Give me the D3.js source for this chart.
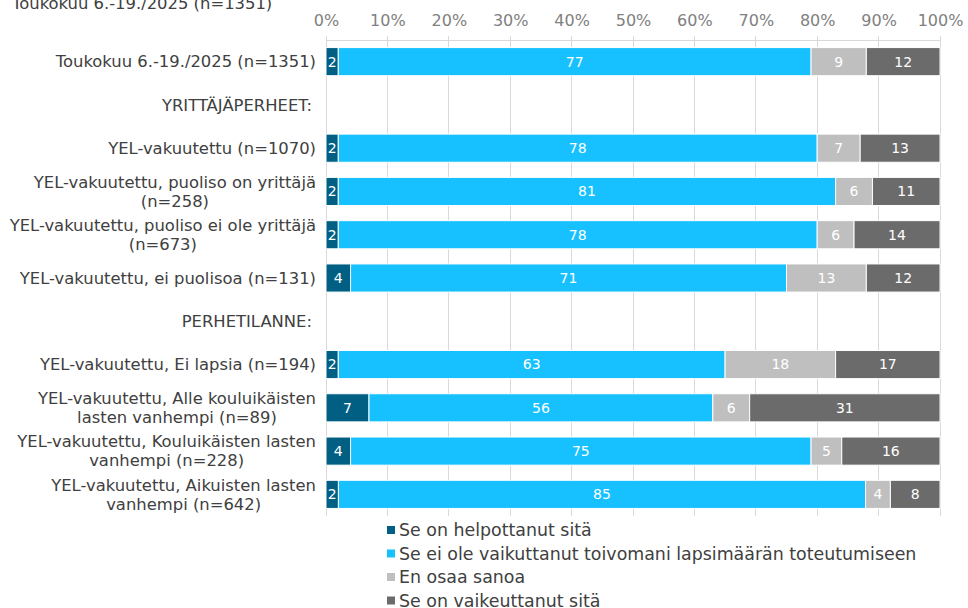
<!DOCTYPE html>
<html>
<head>
<meta charset="utf-8">
<script src="https://cdn.jsdelivr.net/npm/d3@7"></script>
<style>
  body { margin: 0; background: #fff; }
  text { font-family: "DejaVu Sans", Verdana, sans-serif; }
</style>
</head>
<body>
<script>
"use strict";

// data

const title = "Toukokuu 6.-19./2025 (n=1351)";

const categories = [
    "Toukokuu 6.-19./2025 (n=1351)",
    "YRITTÄJÄPERHEET:",
    "YEL-vakuutettu (n=1070)",
    "YEL-vakuutettu, puoliso on yrittäjä\n(n=258)",
    "YEL-vakuutettu, puoliso ei ole yrittäjä\n(n=673)",
    "YEL-vakuutettu, ei puolisoa (n=131)",
    "PERHETILANNE:",
    "YEL-vakuutettu, Ei lapsia (n=194)",
    "YEL-vakuutettu, Alle kouluikäisten\nlasten vanhempi (n=89)",
    "YEL-vakuutettu, Kouluikäisten lasten\nvanhempi (n=228)",
    "YEL-vakuutettu, Aikuisten lasten\nvanhempi (n=642)"
];
const headerRows = ["YRITTÄJÄPERHEET:", "PERHETILANNE:"];

const seriesNames = [
    "Se on helpottanut sitä",
    "Se ei ole vaikuttanut toivomani lapsimäärän toteutumiseen",
    "En osaa sanoa",
    "Se on vaikeuttanut sitä"
];
const helpottanut  = [2, 0, 2, 2, 2, 4, 0, 2, 7, 4, 2];
const eiVaikutusta = [77, 0, 78, 81, 78, 71, 0, 63, 56, 75, 85];
const enOsaa       = [9, 0, 7, 6, 6, 13, 0, 18, 6, 5, 4];
const vaikeuttanut = [12, 0, 13, 11, 14, 12, 0, 17, 31, 16, 8];
const colors = ["#005f83", "#17c1ff", "#bfbfbf", "#6b6b6b"];

const tickValues = [0, 0.1, 0.2, 0.3, 0.4, 0.5, 0.6, 0.7, 0.8, 0.9, 1];

// layout

const W = 968, H = 608;
const plot = {left: 326, right: 940, top: 40, bottom: 516};
const labelFont = '16.4px';

const svg = d3.select('body')
    .append('svg')
    .attr('width', W)
    .attr('height', H);

const rows = categories.map((c, i) => ({
    cat: c,
    s0: helpottanut[i], s1: eiVaikutusta[i], s2: enOsaa[i], s3: vaikeuttanut[i]
}));
const keys = ['s0', 's1', 's2', 's3'];

const x = d3.scaleLinear().domain([0, 1]).range([plot.left, plot.right]);
const y = d3.scaleBand().domain(categories)
    .range([plot.top, plot.bottom]).paddingInner(0.35).paddingOuter(0.175);

// title (cut off at top)
svg.append('text')
    .attr('x', 12).attr('y', 9)
    .style('font-size', labelFont).attr('fill', '#404040')
    .text(title);

// gridlines
svg.append('g').selectAll('line')
    .data(tickValues)
    .join('line')
    .attr('x1', d => x(d)).attr('x2', d => x(d))
    .attr('y1', plot.top - 4).attr('y2', plot.bottom)
    .attr('stroke', '#d9d9d9').attr('stroke-width', 1)
    .attr('shape-rendering', 'crispEdges');

// top axis
const axis = d3.axisTop(x)
    .tickValues(tickValues)
    .tickFormat(d3.format('.0%'))
    .tickSize(0).tickPadding(14);
const ax = svg.append('g')
    .attr('transform', 'translate(0,' + plot.top + ')')
    .call(axis);
ax.select('.domain').attr('stroke', '#d9d9d9').attr('shape-rendering', 'crispEdges');
ax.selectAll('text')
    .style('font-size', '16px')
    .style('font-family', '"DejaVu Sans", Verdana, sans-serif')
    .attr('fill', '#808080');

// stacked bars
const stack = d3.stack().keys(keys).offset(d3.stackOffsetExpand);
const series = stack(rows.filter(r => !headerRows.includes(r.cat)));

const layers = svg.append('g').selectAll('g')
    .data(series)
    .join('g')
    .attr('fill', (d, i) => colors[i]);

layers.selectAll('rect')
    .data(d => d)
    .join('rect')
    .attr('x', d => x(d[0]))
    .attr('y', d => y(d.data.cat))
    .attr('width', d => x(d[1]) - x(d[0]))
    .attr('height', y.bandwidth())
    .attr('stroke', '#fff').attr('stroke-width', 1);

layers.selectAll('text')
    .data((d) => d.map(p => ({p: p, key: d.key})))
    .join('text')
    .attr('x', d => (x(d.p[0]) + x(d.p[1])) / 2)
    .attr('y', d => y(d.p.data.cat) + y.bandwidth() / 2)
    .attr('text-anchor', 'middle')
    .attr('dy', '0.35em')
    .style('font-size', '14px')
    .attr('fill', '#fff')
    .text(d => d.p.data[d.key]);

// category labels
const labelRight = 316;
categories.forEach((c) => {
    const lines = c.split('\n');
    const cy = y(c) + y.bandwidth() / 2;
    const lh = 19;
    const g = svg.append('g');
    const texts = lines.map((ln, j) => g.append('text')
        .attr('y', cy + (j - (lines.length - 1) / 2) * lh)
        .attr('dy', '0.35em')
        .style('font-size', labelFont)
        .attr('fill', '#404040')
        .text(ln));
    const widths = texts.map(t => t.node().getComputedTextLength());
    const maxW = d3.max(widths);
    const right = headerRows.includes(c) ? labelRight - 4 : labelRight;
    texts.forEach((t) => {
        if (lines.length > 1) {
            t.attr('x', right - maxW / 2).attr('text-anchor', 'middle');
        } else {
            t.attr('x', right).attr('text-anchor', 'end');
        }
    });
});

// legend
const legend = svg.append('g')
    .attr('transform', 'translate(387,530)');
const li = legend.selectAll('g')
    .data(seriesNames)
    .join('g')
    .attr('transform', (d, i) => 'translate(0,' + (i * 23.5) + ')');
li.append('rect')
    .attr('x', 0).attr('y', -4)
    .attr('width', 8).attr('height', 8)
    .attr('fill', (d, i) => colors[i]);
li.append('text')
    .attr('x', 12).attr('dy', '0.35em')
    .style('font-size', '17.4px')
    .attr('fill', '#404040')
    .text(d => d);
</script>
</body>
</html>
